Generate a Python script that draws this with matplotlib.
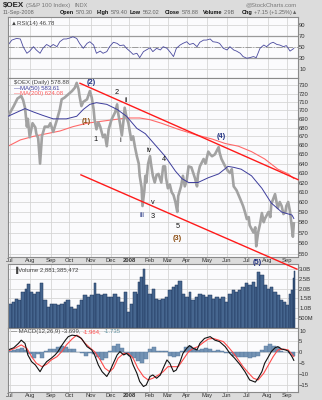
import numpy as np
import matplotlib
matplotlib.use("Agg")
import matplotlib.pyplot as plt

plt.rcParams['font.family'] = ['Liberation Sans', 'DejaVu Sans']

W, H = 322, 400

# ---------------- data (trading-day index from 2-Jul-2007) ----------------
month_days = [0, 21, 44, 63, 86, 107, 127, 148, 168, 188, 210, 231, 252, 274, 295]
month_labels = ["Jul", "Aug", "Sep", "Oct", "Nov", "Dec", "2008", "Feb", "Mar",
                "Apr", "May", "Jun", "Jul", "Aug", "Sep"]

price_days = [-2, 4, 8, 12, 14, 16, 18, 19, 21, 24, 27, 28, 30, 32, 34, 37, 41, 43, 46, 50,
              53, 55, 58, 62, 66, 69, 71, 73, 74, 76, 78, 82, 85, 87, 89, 90, 92, 94, 96, 99,
              101, 103, 105, 108, 112, 114, 115, 117, 119, 121, 122, 124, 126, 129, 131, 133,
              135, 137, 138, 140, 141, 143, 144, 145, 147, 149, 150, 152, 154, 156, 158, 161,
              163, 165, 166, 168, 170, 172, 174, 176, 178, 179, 182, 184, 186, 188, 190, 193,
              195, 197, 199, 200, 202, 206, 208, 211, 213, 215, 218, 222, 223, 225, 229, 232,
              234, 236, 238, 241, 245, 248, 250, 252, 254, 255, 259, 261, 262, 264, 266, 268,
              270, 271, 275, 277, 278, 280, 282, 284, 285, 287, 289, 291, 293, 294, 296, 298,
              300, 301, 302]
price_close = [693, 705, 714, 717, 712, 703, 681, 690, 669, 685, 680, 673, 668, 640, 670, 681,
               681, 685, 675, 689, 701, 713, 715, 719, 723, 727, 733, 725, 717, 705, 710, 713,
               723, 715, 701, 689, 678, 686, 681, 669, 672, 659, 678, 689, 698, 707, 697, 685,
               671, 690, 703, 692, 685, 666, 670, 658, 648, 640, 627, 615, 596, 612, 627, 620,
               640, 648, 640, 627, 620, 628, 629, 620, 637, 637, 625, 614, 618, 610, 607, 600,
               590, 606, 616, 627, 616, 622, 637, 636, 630, 624, 616, 628, 637, 645, 640, 653,
               650, 648, 650, 658, 652, 645, 637, 632, 630, 634, 616, 612, 603, 596, 590, 583,
               585, 577, 570, 575, 557, 570, 578, 589, 580, 583, 590, 585, 598, 603, 608, 598,
               594, 600, 596, 588, 590, 596, 600, 590, 574, 566, 578.88]

ma50_days = [-2, 16, 25, 35, 46, 60, 71, 78, 85, 92, 103, 114, 124, 135, 144, 154, 165, 176,
             183, 190, 200, 211, 222, 232, 238, 246, 257, 268, 278, 289, 300, 302]
ma50_vals = [693, 702, 698, 694, 690, 690, 693, 701, 707, 709, 707, 701, 693, 679, 673, 661,
             648, 632, 624, 620, 620, 625, 629, 637, 636, 634, 627, 614, 599, 590, 587, 583.61]

ma200_days = [-2, 11, 25, 39, 53, 67, 82, 96, 110, 124, 138, 149, 161, 179, 197, 215, 229,
              243, 257, 271, 285, 296, 302]
ma200_vals = [659, 666, 670, 673, 676, 681, 685, 687, 689, 691, 691, 689, 685, 678, 672, 667,
              662, 659, 653, 645, 634, 629, 624.08]

trend_upper_days = [74.5, 306.4]
trend_upper_vals = [732.5, 623.0]
trend_lower_days = [75.5, 305.3]
trend_lower_vals = [628.0, 536.0]

wave_labels = ["(2)", "2", "ii", "(1)", "1", "i", "iii", "iv", "4", "v", "3", "5", "(3)", "(4)", "(5)"]
wave_days = [86, 114, 123.4, 81, 91.2, 117, 140.7, 148, 163.8, 152.4, 152.4, 178, 178, 224.5, 263]
wave_prices = [734, 721, 712, 687.5, 667, 664.8, 586.5, 654.8, 644, 600, 586, 576, 564, 669.6, 542]
wave_colors = ["#1f2f80", "#111111", "#111111", "#8b4c0f", "#111111", "#111111", "#1f2f80",
               "#111111", "#111111", "#111111", "#111111", "#111111", "#8b4c0f", "#1f2f80", "#1f2f80"]

rsi_days = [-2, 2, 7, 11, 14, 18, 21, 25, 28, 32, 35, 39, 43, 46, 50, 53, 57, 60, 64, 67, 71,
            74, 78, 82, 85, 89, 92, 96, 99, 103, 106, 110, 114, 117, 121, 124, 128, 131, 135,
            138, 142, 145, 149, 152, 156, 160, 163, 167, 170, 174, 177, 181, 184, 188, 191, 195,
            199, 202, 206, 209, 213, 216, 220, 223, 227, 231, 234, 238, 241, 245, 248, 252, 255,
            259, 262, 266, 270, 273, 277, 280, 284, 287, 291, 294, 298, 302]
rsi_vals = [53, 62, 65, 64, 50, 38, 42, 50, 44, 38, 47, 54, 50, 54, 50, 59, 64, 64, 66, 68, 65,
            56, 47, 56, 59, 53, 38, 42, 38, 41, 50, 58, 56, 52, 53, 47, 41, 36, 38, 30, 41, 44,
            48, 41, 47, 44, 50, 47, 41, 32, 47, 53, 56, 59, 54, 56, 50, 58, 62, 62, 64, 59, 58,
            56, 47, 44, 50, 44, 42, 38, 32, 29, 30, 32, 30, 47, 53, 50, 56, 58, 54, 53, 50, 52,
            42, 46.78]

vol_days = [-2, 2, 5, 9, 12, 16, 18, 21, 25, 28, 32, 35, 39, 43, 46, 50, 53, 57, 60, 64, 67,
            71, 74, 78, 82, 85, 89, 92, 96, 99, 103, 106, 110, 114, 117, 121, 124, 128, 131, 135,
            136, 138, 141, 144, 147, 151, 154, 158, 161, 165, 168, 172, 176, 179, 183, 186, 190,
            193, 197, 200, 204, 207, 211, 215, 218, 222, 225, 229, 232, 236, 239, 243, 246, 250,
            253, 257, 261, 263, 266, 270, 273, 277, 280, 284, 287, 291, 294, 297, 299, 301, 302]
vol_vals = [1.22, 1.31, 1.48, 1.40, 1.83, 2.00, 2.22, 1.83, 1.74, 1.83, 2.29, 1.40, 1.05, 1.22,
            1.22, 1.14, 1.22, 1.31, 1.40, 1.05, 0.97, 1.14, 1.40, 1.66, 1.57, 1.66, 2.26, 1.74,
            1.66, 1.74, 1.57, 1.57, 1.74, 1.57, 1.31, 1.83, 0.79, 1.22, 1.83, 1.74, 2.34, 2.60,
            2.98, 2.17, 1.74, 2.00, 1.48, 1.43, 1.48, 1.57, 1.91, 2.09, 2.17, 2.40, 1.74, 1.57,
            1.83, 1.40, 1.57, 1.74, 1.66, 1.57, 1.66, 1.48, 1.57, 1.48, 1.57, 1.31, 1.74, 1.91,
            1.83, 1.91, 2.09, 2.26, 2.17, 2.34, 2.09, 2.86, 2.69, 2.17, 2.00, 2.09, 1.83, 1.66,
            1.40, 1.31, 1.14, 1.74, 1.91, 2.52, 2.88]

macd_days = [-2, 4, 9, 12, 16, 19, 23, 27, 32, 35, 39, 44, 48, 51, 55, 59, 62, 66, 71, 76, 82,
             87, 90, 94, 98, 103, 106, 110, 114, 117, 121, 124, 128, 131, 135, 138, 142, 145,
             149, 152, 156, 160, 163, 167, 170, 174, 177, 181, 184, 188, 191, 195, 199, 202,
             207, 213, 218, 223, 229, 234, 239, 245, 250, 255, 261, 264, 268, 271, 275, 278,
             282, 285, 289, 293, 296, 300, 302]
macd_vals = [1.1, 2.1, 4.1, 5.6, 4.1, -1.2, -4.3, -5.8, -8.9, -6.6, -4.3, -2.7, -1.2, 0.3, 3.1,
             5.6, 7.2, 7.9, 7.6, 6.4, 2.6, 1.1, -1.2, -5.8, -8.9, -11.1, -8.9, -5.0, -1.2, 0.3,
             -1.2, -0.5, -2.0, -5.8, -9.6, -13.4, -15.7, -15.0, -11.1, -10.4, -11.9, -10.4, -7.3,
             -3.5, -5.0, -8.9, -8.1, -4.3, -0.5, 1.8, 3.1, 1.8, 1.1, 4.1, 6.4, 7.2, 5.6, 4.9,
             2.6, -0.5, -2.7, -5.8, -8.9, -12.7, -13.7, -11.9, -8.9, -5.0, -2.0, 0.3, 2.1, 2.6,
             1.5, 1.1, 0.6, -2.0, -3.699]

signal_days = [-2, 5, 12, 18, 23, 28, 34, 39, 44, 50, 55, 60, 66, 71, 74, 80, 85, 90, 96, 101,
               106, 110, 115, 121, 126, 131, 136, 142, 147, 152, 158, 163, 168, 174, 179, 184,
               190, 195, 200, 206, 211, 216, 222, 227, 232, 238, 243, 248, 254, 259, 264, 270,
               275, 280, 285, 291, 296, 302]
signal_vals = [0.6, 1.8, 3.4, 1.8, -2.0, -5.0, -6.6, -5.5, -3.5, -2.0, 0.3, 3.4, 6.1, 7.9, 7.2,
               4.1, 2.1, 0.3, -3.5, -7.3, -8.9, -7.3, -2.7, -0.5, -0.5, -2.7, -7.3, -11.1, -12.7,
               -11.9, -10.4, -8.9, -6.6, -6.6, -6.6, -3.5, 0.3, 1.8, 2.6, 4.6, 6.1, 6.4, 5.6, 4.9,
               2.6, -0.5, -3.5, -6.6, -9.6, -11.9, -12.7, -9.6, -5.8, -2.0, 1.1, 1.5, 1.1, -1.964]

hist_days = [-2, 2, 6, 11, 15, 19, 23, 28, 32, 36, 40, 45, 49, 53, 57, 62, 66, 70, 74, 79, 83,
             87, 91, 96, 100, 104, 109, 113, 117, 121, 126, 130, 134, 138, 143, 147, 151, 155,
             160, 164, 168, 172, 177, 181, 185, 189, 194, 198, 202, 206, 211, 215, 219, 223,
             228, 232, 236, 240, 245, 249, 253, 257, 262, 266, 270, 274, 279, 283, 287, 291,
             296, 300, 302]
hist_vals = [0.5, 1.0, 1.5, 2.0, 1.0, -1.0, -2.5, -1.0, -2.5, 0.5, 1.5, 1.5, 2.5, 2.8, 2.5, 1.5,
             1.5, 0.0, -0.5, -1.5, -0.5, -1.0, -2.0, -3.5, -2.5, 0.5, 3.0, 4.0, 2.0, -1.0, -1.5,
             -2.5, -4.0, -5.0, -3.0, 1.5, 2.5, 0.5, 0.5, 0.5, -1.5, -2.0, -1.5, 0.5, 2.5, 3.0,
             2.0, 1.0, 1.5, 2.0, 1.5, 0.8, 1.0, 0.5, -0.5, -0.5, -1.5, -2.0, -2.0, -2.0, -2.5,
             -2.0, -1.5, 1.0, 3.0, 3.8, 3.0, 2.5, 0.5, 0.2, -0.5, -1.5, -1.735]

price_ticks = [550, 560, 570, 580, 590, 600, 610, 620, 630, 640, 650, 660, 670, 680, 690,
               700, 710, 720, 730]
rsi_ticks = [10, 30, 50, 70, 90]
vol_ticks = [0.5, 1.0, 1.5, 2.0, 2.5, 3.0]
vol_tick_labels = ["500M", "1.0B", "1.5B", "2.0B", "2.5B", "3.0B"]
macd_ticks = [-15, -10, -5, 0, 5, 10]

# ---------------- figure ----------------
BG = "#dcdcdc"
PANEL = "#fbfbfd"
GRID = "#d6d6d6"
EDGE = "#8a8a8a"
XLIM = (-2.1, 305.9)
TICKFS = 4.2

fig = plt.figure(figsize=(W / 100, H / 100), dpi=100, facecolor=BG)
ax_bg = fig.add_axes([0, 0, 1, 1])
ax_bg.set_xlim(0, W)
ax_bg.set_ylim(H, 0)
ax_bg.axis("off")


def rect(top, bottom):
    return [8 / W, 1 - bottom / H, (297.5 - 8) / W, (bottom - top) / H]


def style(ax, show_dates=False):
    ax.set_facecolor(PANEL)
    for s in ax.spines.values():
        s.set_color(EDGE)
        s.set_linewidth(0.8)
    ax.set_xlim(*XLIM)
    ax.set_xticks(month_days)
    ax.set_xticklabels(month_labels)
    ax.yaxis.tick_right()
    ax.tick_params(axis='both', length=0, labelsize=TICKFS, labelcolor="#333333", pad=1.2)
    ax.tick_params(axis='x', labelbottom=show_dates, pad=1.0)
    ax.grid(True, color=GRID, linewidth=0.6)
    ax.set_axisbelow(True)
    if show_dates:
        for lab in ax.get_xticklabels():
            if lab.get_text() == "2008":
                lab.set_fontweight("bold")


def chain(ax, x, y, parts, transform=None, gap=1.2):
    """parts: list of (text, kwargs). First placed at x,y; the rest follow it."""
    s0, kw0 = parts[0]
    kw = dict(va="center", ha="left")
    kw.update(kw0)
    if transform is not None:
        prev = ax.text(x, y, s0, transform=transform, **kw)
    else:
        prev = ax.text(x, y, s0, **kw)
    for s, kwi in parts[1:]:
        g = kwi.pop("gap", gap)
        kw = dict(va="center", ha="left")
        kw.update(kwi)
        prev = ax.annotate(s, xy=(1, 0.5), xycoords=prev, xytext=(g, 0),
                           textcoords="offset points", **kw)
    return prev


# header
chain(ax_bg, 3, 5.2, [("$OEX", dict(fontsize=5.8, fontweight="bold", color="#222222")),
                      ("(S&P 100 Index)", dict(fontsize=4.3, color="#777777")),
                      ("INDX", dict(fontsize=4.0, color="#777777", gap=3))])
ax_bg.text(297, 5.2, "@StockCharts.com", fontsize=4.2, color="#777777", ha="right", va="center")
ax_bg.text(3, 12.3, "11-Sep-2008", fontsize=4.0, color="#666666", va="center")
hdr_groups = [(60, "Open", "570.30"), (97, "High", "579.40"), (130, "Low", "562.02"),
              (165, "Close", "578.88"), (203, "Volume", "2.9B"), (242, "Chg", "+7.15 (+1.25%)\u25b2")]
for x, lab, val in hdr_groups:
    chain(ax_bg, x, 12.3, [(lab, dict(fontsize=4.0, fontweight="bold", color="#111111")),
                           (val, dict(fontsize=4.0, color="#666666", gap=1.0))])

# ---------------- RSI ----------------
ax_rsi = fig.add_axes(rect(16.7, 77.7))
style(ax_rsi)
ax_rsi.set_ylim(-6.4, 104.5)
ax_rsi.set_yticks(rsi_ticks)
ax_rsi.axhline(70, color="#9a9a9a", lw=0.9)
ax_rsi.axhline(30, color="#9a9a9a", lw=0.9)
ax_rsi.axhline(50, color="#9a9a9a", lw=0.7, ls="-.")
ax_rsi.plot(rsi_days, rsi_vals, color="#4a4a9e", lw=0.6)
ax_rsi.text(0.012, 0.93, "\u25b2RSI(14) 46.78", transform=ax_rsi.transAxes, fontsize=4.3,
            color="#444444", va="top")

# ---------------- Price ----------------
ax_p = fig.add_axes(rect(77.7, 256.5))
ax_p.set_yscale("log")
style(ax_p, show_dates=True)
ax_p.set_ylim(547.5, 739.4)
ax_p.yaxis.set_minor_locator(matplotlib.ticker.NullLocator())
ax_p.set_yticks(price_ticks)
ax_p.set_yticklabels([str(t) for t in price_ticks])
ax_p.set_zorder(5)
ax_p.plot(ma200_days, ma200_vals, color="#ff6a6a", lw=0.8, zorder=2)
ax_p.plot(price_days, price_close, color="#a2a2a2", lw=1.9, zorder=3)
ax_p.plot(ma50_days, ma50_vals, color="#3d3d9c", lw=0.7, zorder=4)
ax_p.plot(trend_upper_days, trend_upper_vals, color="#ff1a1a", lw=1.0, zorder=5, clip_on=False)
ax_p.plot(trend_lower_days, trend_lower_vals, color="#ff1a1a", lw=1.0, zorder=5, clip_on=False)
for s, d, v, c in zip(wave_labels, wave_days, wave_prices, wave_colors):
    ax_p.text(d, v, s, fontsize=5.3, color=c, ha="center", va="center", zorder=6,
              clip_on=False, fontweight="bold" if s.startswith("(") else "normal")
ax_p.text(0.02, 0.985, "$OEX (Daily) 578.88", transform=ax_p.transAxes, fontsize=4.3,
          color="#444444", va="top")
ax_p.text(0.02, 0.955, "\u2014MA(50) 583.61", transform=ax_p.transAxes, fontsize=4.3,
          color="#3d3d9c", va="top")
ax_p.text(0.02, 0.925, "\u2014MA(200) 624.08", transform=ax_p.transAxes, fontsize=4.3,
          color="#ff5a5a", va="top")

# ---------------- Volume ----------------
ax_v = fig.add_axes(rect(264, 327.5))
style(ax_v)
ax_v.set_ylim(0, 3.26)
ax_v.set_yticks(vol_ticks)
ax_v.set_yticklabels(vol_tick_labels)
vd = np.array(vol_days, dtype=float)
vw = np.diff(vd, append=vd[-1] + 1.0)
ax_v.bar(vd, vol_vals, width=vw, align="edge", color="#46668f", edgecolor="#1c3358",
         linewidth=0.35)
ax_v.text(0.02, 0.95, "\u2590Volume 2,881,385,472", transform=ax_v.transAxes, fontsize=4.3,
          color="#444444", va="top")

# ---------------- MACD ----------------
ax_m = fig.add_axes(rect(327.5, 391.5))
style(ax_m, show_dates=True)
ax_m.set_ylim(-18, 11.4)
ax_m.set_yticks(macd_ticks)
hd = np.array(hist_days, dtype=float)
hw = np.diff(hd, append=hd[-1] + 1.0)
ax_m.bar(hd, hist_vals, width=hw, align="edge", color="#7493b4", edgecolor="#56779c",
         linewidth=0.3)
ax_m.plot(signal_days, signal_vals, color="#ff4a4a", lw=0.8)
ax_m.plot(macd_days, macd_vals, color="#111111", lw=0.8)
chain(ax_m, 0.012, 0.93, [("\u2014 MACD(12,26,9) -3.699,", dict(fontsize=4.3, color="#444444")),
                          ("-1.964,", dict(fontsize=4.3, color="#ff4a4a", gap=1.5)),
                          ("-1.735", dict(fontsize=4.3, color="#5f8f9f", gap=1.5))],
      transform=ax_m.transAxes)

fig.savefig("out.png", dpi=100, facecolor=BG)
